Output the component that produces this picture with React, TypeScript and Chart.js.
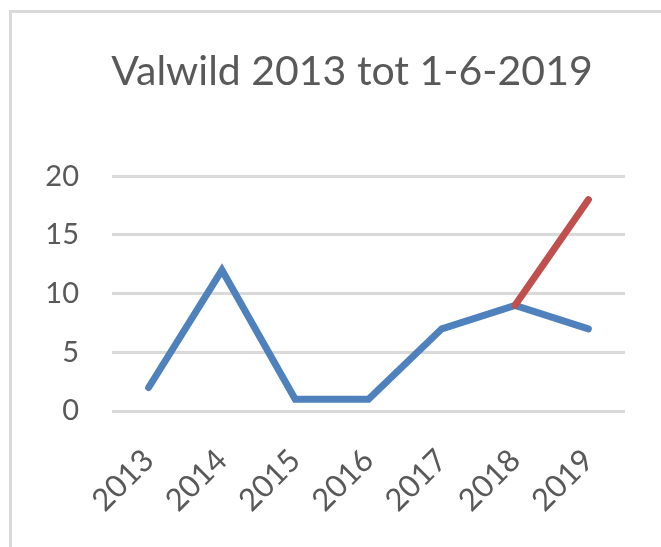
import React, { useEffect, useRef } from "react";
import { Chart, registerables } from "chart.js";

Chart.register(...registerables);

const categories = ["2013", "2014", "2015", "2016", "2017", "2018", "2019"];
const blueValues = [2, 12, 1, 1, 7, 9, 7];
const redValues = [null, null, null, null, null, 9, 18];
const yTicks = [0, 5, 10, 15, 20];
const titleText = "Valwild 2013 tot 1-6-2019";

const FONT = "Lato, 'Open Sans', sans-serif";

// Shift the title's horizontal span so it is centred like the reference.
const titleSpan = {
  id: "titleSpan",
  afterLayout(chart: any) {
    const t = chart.titleBlock;
    if (t) {
      t.left = 79;
      t.right = chart.chartArea.right;
      t.width = t.right - t.left;
    }
  },
};

export default function App() {
  const ref = useRef<HTMLCanvasElement | null>(null);

  useEffect(() => {
    if (!ref.current) return;
    const chart = new Chart(ref.current, {
      type: "line",
      data: {
        labels: categories,
        datasets: [
          {
            label: "Valwild",
            data: blueValues,
            borderColor: "#4f81bd",
            borderWidth: 7,
            pointRadius: 0,
            borderCapStyle: "round",
            borderJoinStyle: "miter",
            tension: 0,
            order: 2,
          },
          {
            label: "Valwild tot 1-6",
            data: redValues as any,
            borderColor: "#c0504d",
            borderWidth: 7,
            pointRadius: 0,
            borderCapStyle: "round",
            tension: 0,
            order: 1,
          },
        ],
      },
      options: {
        animation: false,
        responsive: false,
        layout: { padding: { left: 0, right: 36, top: 0, bottom: 0 } },
        plugins: {
          legend: { display: false },
          tooltip: { enabled: false },
          title: {
            display: true,
            text: titleText,
            color: "#595959",
            font: { family: FONT, size: 41, weight: "normal", lineHeight: 1.2 },
            padding: { top: 47, bottom: 80 },
          },
        },
        scales: {
          x: {
            offset: true,
            grid: { display: false, drawTicks: false },
            border: { display: false },
            ticks: {
              color: "#595959",
              font: { family: FONT, size: 31 },
              maxRotation: 45,
              minRotation: 45,
              padding: 31,
              autoSkip: false,
            },
            afterFit: (s: any) => {
              s.height = 136;
            },
          },
          y: {
            min: 0,
            max: 20,
            afterBuildTicks: (s: any) => {
              s.ticks = yTicks.map((v) => ({ value: v }));
            },
            grid: { color: "#d9d9d9", lineWidth: 3, drawTicks: false },
            border: { display: false },
            ticks: {
              color: "#595959",
              font: { family: FONT, size: 29 },
              padding: 33,
            },
            afterFit: (s: any) => {
              s.width = 112;
            },
          },
        },
      },
      plugins: [titleSpan],
    });
    return () => chart.destroy();
  }, []);

  return (
    <div
      style={{
        position: "absolute",
        left: 0,
        top: 0,
        width: 661,
        height: 547,
        overflow: "hidden",
        background: "#ffffff",
      }}
    >
      <div
        style={{
          position: "absolute",
          left: 9,
          top: 10,
          width: 700,
          height: 600,
          border: "3px solid #d9d9d9",
          boxSizing: "border-box",
        }}
      />
      <canvas
        ref={ref}
        width={661}
        height={547}
        style={{ position: "absolute", left: 0, top: 0 }}
      />
    </div>
  );
}
